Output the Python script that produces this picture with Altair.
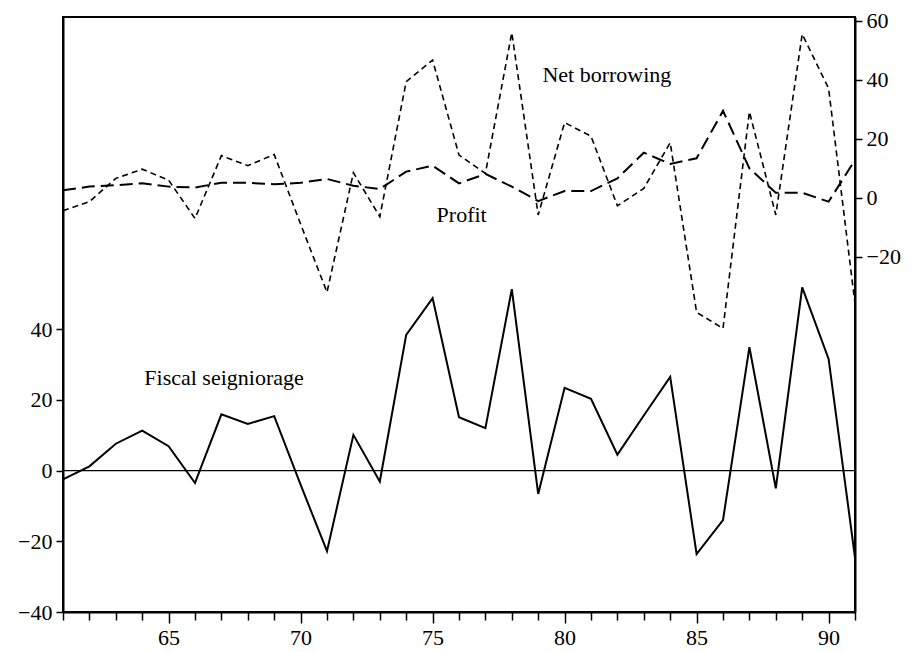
import altair as alt
import pandas as pd

years = list(range(61, 92))

fiscal_seigniorage = [-2.5, 1.2, 7.6, 11.3, 6.9, -3.5, 15.9, 13.2, 15.4, -4.0,
                      -22.8, 10.1, -3.1, 38.4, 48.8, 15.1, 12.0, 51.3, -6.6, 23.4,
                      20.3, 4.5, 15.6, 26.5, -23.6, -14.0, 34.9, -5.0, 51.8, 31.6,
                      -24.6]

net_borrowing = [-4.5, -1.4, 6.5, 9.6, 5.9, -7.1, 14.2, 10.8, 14.6, -9.0,
                 -32.1, 8.4, -6.5, 39.3, 46.6, 14.4, 8.2, 55.9, -5.9, 25.4,
                 20.8, -2.8, 3.1, 18.6, -38.9, -44.4, 29.1, -5.9, 55.4, 37.0,
                 -36.0]

profit = [2.5, 3.7, 4.2, 4.8, 3.7, 3.4, 5.0, 5.0, 4.5, 5.0,
          6.3, 4.0, 2.9, 8.8, 10.8, 4.8, 8.0, 3.7, -1.2, 2.2,
          2.2, 6.5, 15.2, 11.4, 13.3, 29.4, 9.9, 1.6, 1.6, -1.4,
          12.7]

left_ticks = [-40, -20, 0, 20, 40]
right_ticks = [-20, 0, 20, 40, 60]

FONT = "Liberation Serif"
FS = 22

df = pd.DataFrame({
    "year": years,
    "seigniorage": fiscal_seigniorage,
    "borrowing": net_borrowing,
    "profit": profit,
})

x_scale = alt.Scale(domain=[61, 91], nice=False, zero=False)
x_axis = alt.Axis(values=years, labelExpr="datum.value % 5 == 0 ? datum.label : ''",
                  labelOverlap=False, title=None, grid=False,
                  tickSize={"condition": {"test": "datum.value % 5 == 0", "value": 11},
                            "value": 8},
                  tickColor="black", tickWidth=1.5,
                  domainColor="black", domainWidth=2,
                  labelFont=FONT, labelFontSize=FS, labelColor="black",
                  labelPadding=4)


def xenc(field="year:Q"):
    return alt.X(field, scale=x_scale, axis=x_axis)


left_scale = alt.Scale(domain=[-40, 128.3], nice=False, zero=False)
right_scale = alt.Scale(domain=[-140.5, 61.2], nice=False, zero=False)


def y_axis(side, ticks):
    return alt.Axis(orient=side, values=ticks, title=None, grid=False,
                    labelOverlap=False, tickSize=7, tickColor="black", tickWidth=1.5,
                    domainColor="black", domainWidth=2,
                    labelFont=FONT, labelFontSize=FS, labelColor="black",
                    labelPadding=4)


left_axis = y_axis("left", left_ticks)
right_axis = y_axis("right", right_ticks)

base = alt.Chart(df)

# Left scale: fiscal seigniorage with its zero reference line
seign_line = base.mark_line(color="black", strokeWidth=2).encode(
    x=xenc(), y=alt.Y("seigniorage:Q", scale=left_scale, axis=left_axis))
zero_rule = alt.Chart(pd.DataFrame({"v": [0]})).mark_rule(
    color="black", strokeWidth=1.2).encode(y=alt.Y("v:Q", scale=left_scale, axis=left_axis))
seign_label = alt.Chart(pd.DataFrame({"year": [67.1], "v": [26.1],
                                      "t": ["Fiscal seigniorage"]})).mark_text(
    font=FONT, fontSize=FS, color="black", baseline="middle").encode(
    x=xenc(), y=alt.Y("v:Q", scale=left_scale, axis=left_axis), text="t:N")

left = alt.layer(zero_rule, seign_line, seign_label)

# Right scale: net borrowing and profit
borrow_line = base.mark_line(color="black", strokeWidth=1.6, strokeDash=[6, 4]).encode(
    x=xenc(), y=alt.Y("borrowing:Q", scale=right_scale, axis=right_axis))
profit_line = base.mark_line(color="black", strokeWidth=2, strokeDash=[13, 6]).encode(
    x=xenc(), y=alt.Y("profit:Q", scale=right_scale, axis=right_axis))
right_labels = alt.Chart(pd.DataFrame({
    "year": [81.6, 76.1], "v": [41.5, -5.9], "t": ["Net borrowing", "Profit"]})).mark_text(
    font=FONT, fontSize=FS, color="black", baseline="middle").encode(
    x=xenc(), y=alt.Y("v:Q", scale=right_scale, axis=right_axis), text="t:N")

right = alt.layer(borrow_line, profit_line, right_labels)

chart = alt.layer(left, right).resolve_scale(y="independent").properties(
    width=792, height=595,
    autosize=alt.AutoSizeParams(type="none"),
    padding={"left": 63, "top": 17, "right": 56, "bottom": 40},
    background="white",
).configure_view(stroke="black", strokeWidth=2)

chart.save("out.html", embed_options={"renderer": "svg", "actions": False})
